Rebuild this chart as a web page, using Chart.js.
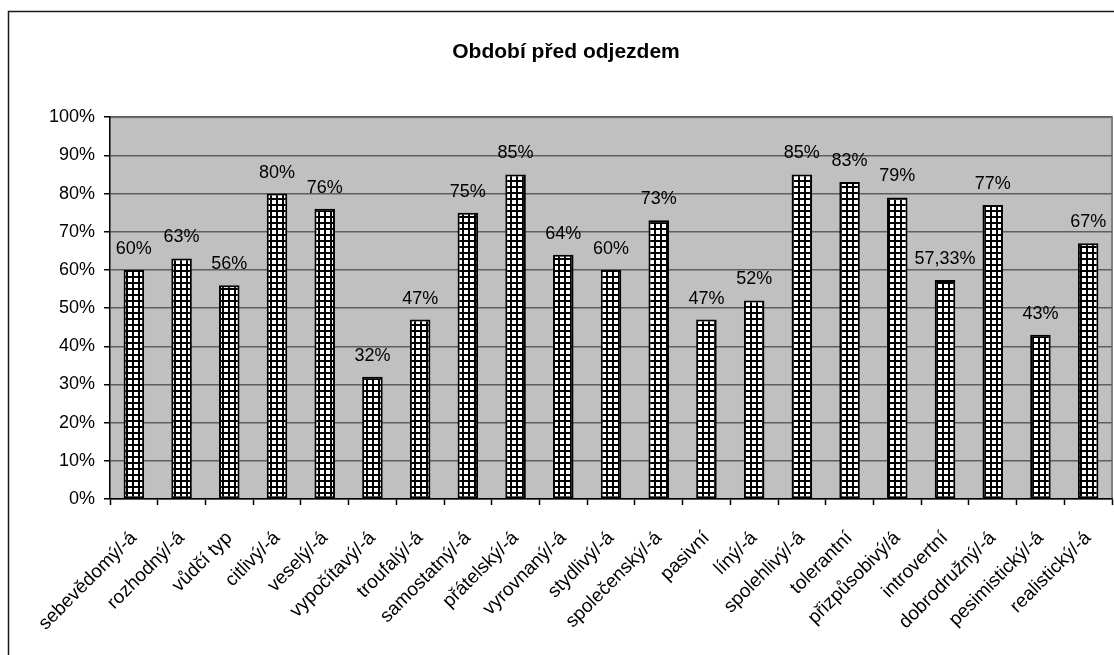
<!DOCTYPE html>
<html>
<head>
<meta charset="utf-8">
<script src="https://cdn.jsdelivr.net/npm/chart.js@4/dist/chart.umd.min.js"></script>
<style>
  body { margin: 0; background: #fff; overflow: hidden; }
</style>
</head>
<body>
<canvas id="myChart" width="1130" height="655"></canvas>
<script>
const traits = ['sebevědomý/-á', 'rozhodný/-á', 'vůdčí typ', 'citlivý/-á', 'veselý/-á', 'vypočítavý/-á',
  'troufalý/-á', 'samostatný/-á', 'přátelský/-á', 'vyrovnaný/-á', 'stydlivý/-á', 'společenský/-á',
  'pasivní', 'líný/-á', 'spolehlivý/-á', 'tolerantní', 'přizpůsobivý/á', 'introvertní',
  'dobrodružný/-á', 'pesimistický/-á', 'realistický/-á']
const percents = [60, 63, 56, 80, 76, 32, 47, 75, 85, 64, 60, 73, 47, 52, 85, 83, 79, 57.33, 77, 43, 67]
const yTicks = [0, 10, 20, 30, 40, 50, 60, 70, 80, 90, 100]

const font = 'Liberation Sans, Arial, sans-serif'

// small checkered fill for the bars
const makeGrid = () => {
  const c = document.createElement('canvas')
  c.width = 6
  c.height = 6
  const g = c.getContext('2d')
  g.fillStyle = '#fff'
  g.fillRect(0, 0, 6, 6)
  g.fillStyle = '#000'
  g.fillRect(0, 0, 6, 2)
  g.fillRect(0, 0, 2, 6)
  return g.createPattern(c, 'repeat')
}

const fmt = (v) => Number.isInteger(v) ? v + '%' : v.toFixed(2).replace('.', ',') + '%'

// gray plot area + outer frame
const backdrop = {
  id: 'backdrop',
  beforeDraw(chart) {
    const { ctx, chartArea: a } = chart
    ctx.save()
    ctx.fillStyle = '#c0c0c0'
    ctx.fillRect(a.left, a.top, a.right - a.left, a.bottom - a.top)
    ctx.strokeStyle = '#808080'
    ctx.lineWidth = 2
    ctx.beginPath()
    ctx.moveTo(a.left, a.top)
    ctx.lineTo(a.right, a.top)
    ctx.lineTo(a.right, a.bottom)
    ctx.stroke()
    ctx.strokeStyle = '#1a1a1a'
    ctx.lineWidth = 1.5
    ctx.strokeRect(8.5, 11.5, 1115, 700)
    ctx.restore()
  }
}

// percentage above each bar
const valueLabels = {
  id: 'valueLabels',
  afterDatasetsDraw(chart) {
    const { ctx } = chart
    const meta = chart.getDatasetMeta(0)
    ctx.save()
    ctx.font = '18px ' + font
    ctx.fillStyle = '#000'
    ctx.textAlign = 'center'
    ctx.textBaseline = 'alphabetic'
    meta.data.forEach((bar, i) => {
      ctx.fillText(fmt(percents[i]), bar.x, bar.y - 16)
    })
    ctx.restore()
  }
}

new Chart('myChart', {
  type: 'bar',
  data: {
    labels: traits,
    datasets: [{
      data: percents,
      backgroundColor: makeGrid(),
      borderColor: '#000',
      borderWidth: 2,
      borderSkipped: false,
      barPercentage: 0.43,
      categoryPercentage: 1
    }]
  },
  options: {
    responsive: false,
    devicePixelRatio: 1,
    animation: false,
    layout: { padding: { left: 20, right: 18, top: 0, bottom: 0 } },
    plugins: {
      legend: { display: false },
      tooltip: { enabled: false },
      title: {
        display: true,
        text: 'Období před odjezdem',
        color: '#000',
        font: { family: font, size: 21, weight: 'bold' },
        padding: { top: 40, bottom: 52 }
      }
    },
    scales: {
      x: {
        afterFit: (s) => { s.height = 156 },
        grid: { drawOnChartArea: false, drawTicks: true, tickLength: 6, tickColor: '#000', tickWidth: 1.5 },
        border: { color: '#000', width: 1.5 },
        ticks: {
          color: '#000',
          font: { family: font, size: 19 },
          minRotation: 45,
          maxRotation: 45,
          autoSkip: false,
          padding: 22
        }
      },
      y: {
        min: 0,
        max: 100,
        afterFit: (s) => { s.width = 90 },
        afterBuildTicks: (s) => { s.ticks = yTicks.map(v => ({ value: v })) },
        grid: { color: '#5e5e5e', lineWidth: 1.5, tickLength: 6, tickColor: '#000', tickWidth: 1.5 },
        border: { color: '#000', width: 1.5 },
        ticks: {
          color: '#000',
          font: { family: font, size: 18 },
          padding: 9,
          callback: (v) => v + '%'
        }
      }
    }
  },
  plugins: [backdrop, valueLabels]
})
</script>
</body>
</html>
